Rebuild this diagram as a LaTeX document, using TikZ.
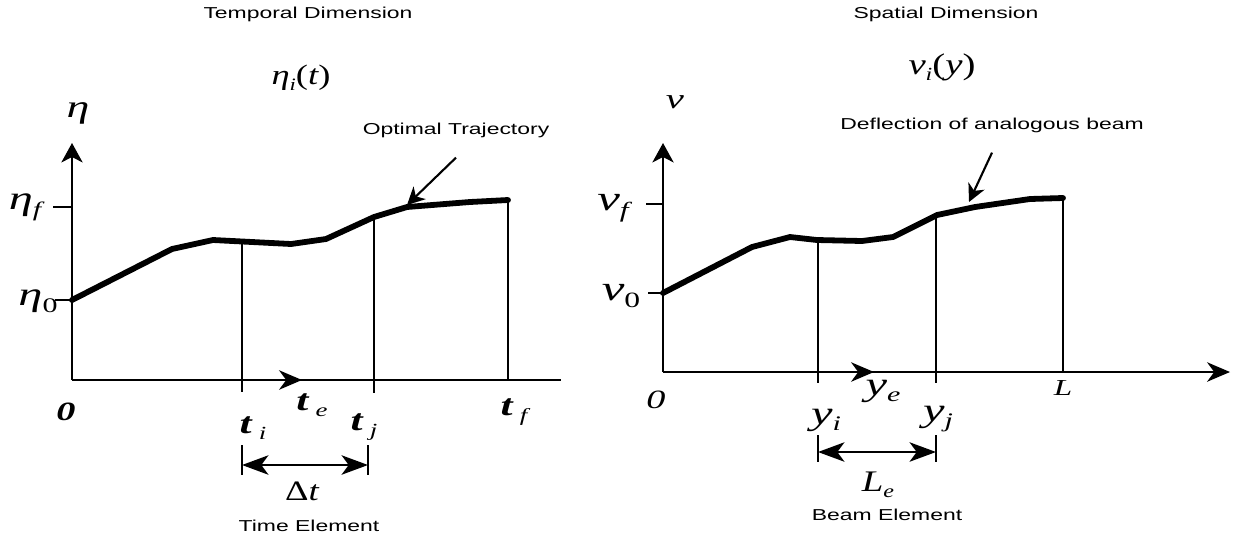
\documentclass[tikz,border=0pt]{standalone}
\usepackage{graphicx}
\usepackage{fontspec}
\setmainfont{Liberation Serif}
\newfontfamily\capfont[FakeStretch=1.45]{Liberation Sans}
\usetikzlibrary{arrows.meta}

\newcommand{\fs}[1]{\fontsize{#1}{#1}\selectfont}
\newcommand{\wide}[2][1.45]{\scalebox{#1}[1]{#2}}
\newcommand{\lo}[1]{\raisebox{-0.45ex}{\scalebox{0.62}{#1}}}

\begin{document}
\begin{tikzpicture}[x=0.02cm,y=-0.02cm,
  axis/.style={line width=1.5pt},
  vline/.style={line width=1.2pt},
  traj/.style={line width=3.3pt,line join=round,line cap=round},
  tip/.style={-{Stealth[length=11pt,width=12pt,inset=3pt]}},
  midtip/.style={-{Stealth[length=13pt,width=11pt,inset=4pt]}},
  dimarrow/.style={line width=1.5pt,{Stealth[length=15pt,width=11pt,inset=4pt]}-{Stealth[length=15pt,width=11pt,inset=4pt]}},
  note/.style={line width=1.2pt,-{Stealth[length=10pt,width=10pt,inset=3pt]}},
  ttl/.style={font=\capfont\fs{9}},
  lbl/.style={inner sep=0pt}]

\useasboundingbox[fill=white] (0,0) rectangle (1239,542);

% ---------- Temporal Dimension ----------
\node[ttl] (title1) at (308,14) {Temporal Dimension};
\node[lbl] (hdr1) at (301,78) {\wide[1.3]{\fs{16}\itshape η\lo{i}\upshape(\itshape t\upshape)}};
\node[lbl] (eta) at (78,113) {\wide{\fs{18}\itshape η}};
\node[lbl] (etaf) at (25,207) {\wide{\fs{19}\itshape η\lo{f}}};
\node[lbl] (eta0) at (38,301) {\wide{\fs{19}\itshape η\lo{\upshape 0}}};

\draw[axis,tip] (72,380) -- (72,143);
\draw[axis] (72,380) -- (561,380);
\draw[axis,midtip] (242,380) -- (302,380);
\draw[axis] (53,207) -- (72,207);
\draw[axis] (55,300) -- (72,300);

\draw[traj] (72,300) -- (172,249) -- (213,240) -- (291,244) -- (326,239)
  -- (374,217) -- (407,207) -- (470,202) -- (508,200);

\draw[vline] (242,241.5) -- (242,392);
\draw[vline] (374,217) -- (374,393);
\draw[vline] (508,200) -- (508,380);

\node[lbl] (zero1) at (66,412) {\wide{\fs{15}\bfseries\itshape 0}};
\node[lbl] (ti) at (253,428) {\wide{\fs{17}\bfseries\itshape t\,\lo{\mdseries i}}};
\node[lbl] (te) at (312,405) {\wide{\fs{17}\bfseries\itshape t\,\lo{\mdseries e}}};
\node[lbl] (tj) at (364,427) {\wide{\fs{17}\bfseries\itshape t\,\lo{\mdseries j}}};
\node[lbl] (tf) at (514,412) {\wide{\fs{17}\bfseries\itshape t\,\lo{\mdseries f}}};

% element
\draw[vline] (242,445) -- (242,475);
\draw[vline] (368,445) -- (368,475);
\draw[dimarrow] (242,465) -- (368,465);
\node[lbl] (dt) at (302,491) {\wide[1.3]{\fs{16}Δ\itshape t}};
\node[ttl] (elem1) at (309,526) {Time Element};

\node[ttl] (opt) at (456,130) {Optimal Trajectory};
\coordinate (optP) at (407,205);
\draw[note] ([yshift=-8pt]opt.south) -- (optP);

% ---------- Spatial Dimension ----------
\node[ttl] (title2) at (946,14) {Spatial Dimension};
\node[lbl] (hdr2) at (942,67) {\wide[1.3]{\fs{17}\itshape v\lo{i}\upshape(\itshape y\upshape)}};
\node[lbl] (v) at (675,102) {\wide{\fs{16}\itshape v}};
\node[lbl] (vf) at (613,208) {\wide{\fs{20}\itshape v\lo{f}}};
\node[lbl] (v0) at (621,296) {\wide{\fs{20}\itshape v\lo{\upshape 0}}};

\draw[axis,tip] (663,372) -- (663,143);
\draw[axis,midtip] (663,372) -- (1230,372);
\draw[axis,midtip] (818,372) -- (874,372);
\draw[axis] (646,204) -- (663,204);
\draw[axis] (648,293) -- (663,293);

\draw[traj] (663,293) -- (752,247) -- (790,237) -- (817,240) -- (862,241)
  -- (893,237) -- (937,215) -- (975,207) -- (1030,199) -- (1063,198);

\draw[vline] (818,240) -- (818,383);
\draw[vline] (936,215.5) -- (936,383);
\draw[vline] (1063,198) -- (1063,372);

\node[lbl] (zero2) at (656,400) {\wide{\fs{15}\itshape 0}};
\node[lbl] (yi) at (826,420) {\wide{\fs{19}\itshape y\lo{i}}};
\node[lbl] (ye) at (883,391) {\wide{\fs{19}\itshape y\lo{e}}};
\node[lbl] (yj) at (938,419) {\wide{\fs{19}\itshape y\lo{j}}};
\node[lbl] (L) at (1063,388) {\wide{\fs{13}\itshape L}};

% element
\draw[vline] (818,435) -- (818,462);
\draw[vline] (936,435) -- (936,462);
\draw[dimarrow] (818,452) -- (936,452);
\node[lbl] (Le) at (878,485) {\wide[1.3]{\fs{17}\itshape L\lo{e}}};
\node[ttl] (elem2) at (887,515) {Beam Element};

\node[ttl] (defl) at (992,125) {Deflection of analogous beam};
\coordinate (deflP) at (969,202);
\draw[note] ([yshift=-8pt]defl.south) -- (deflP);

\end{tikzpicture}
\end{document}
